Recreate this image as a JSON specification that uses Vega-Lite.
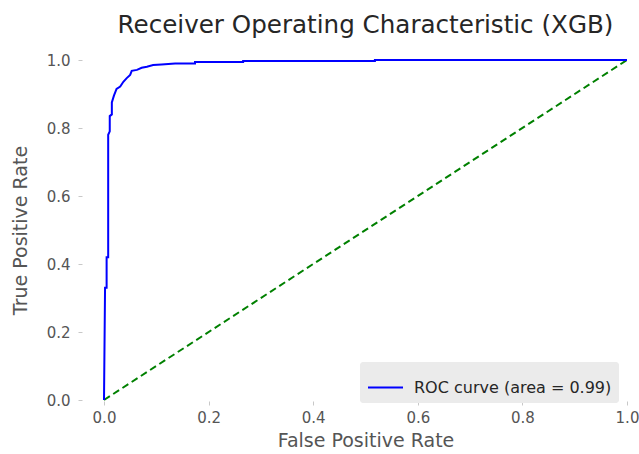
{
  "$schema": "https://vega.github.io/schema/vega-lite/v6.json",
  "width": 523,
  "height": 340,
  "autosize": {"type": "none"},
  "padding": {"left": 104, "top": 60, "right": 12, "bottom": 54},
  "background": "white",
  "title": {
    "text": "Receiver Operating Characteristic (XGB)",
    "font": "DejaVu Sans",
    "fontSize": 24.6,
    "fontWeight": "normal",
    "color": "#262626",
    "anchor": "middle",
    "offset": 14
  },
  "config": {
    "font": "DejaVu Sans",
    "view": {"stroke": null},
    "axis": {
      "domain": false,
      "grid": false,
      "tickColor": "#c8c8c8",
      "tickSize": 4,
      "labelFlush": false,
      "labelFont": "DejaVu Sans",
      "labelFontSize": 15,
      "labelColor": "#555555",
      "titleFont": "DejaVu Sans",
      "titleFontSize": 19,
      "titleFontWeight": "normal",
      "titleColor": "#555555"
    }
  },
  "layer": [
    {
      "data": {"values": [{"fpr": 0, "tpr": 0}, {"fpr": 1, "tpr": 1}]},
      "mark": {"type": "line", "color": "green", "strokeWidth": 2, "strokeDash": [7, 4]},
      "encoding": {
        "x": {"field": "fpr", "type": "quantitative", "scale": {"domain": [0, 1]}},
        "y": {"field": "tpr", "type": "quantitative", "scale": {"domain": [0, 1]}}
      }
    },
    {
      "data": {
        "values": [
          {"step": 0, "fpr": 0.0, "tpr": 0.0, "series": "ROC curve (area = 0.99)"},
          {"step": 1, "fpr": 0.002, "tpr": 0.33, "series": "ROC curve (area = 0.99)"},
          {"step": 2, "fpr": 0.005, "tpr": 0.33, "series": "ROC curve (area = 0.99)"},
          {"step": 3, "fpr": 0.005, "tpr": 0.42, "series": "ROC curve (area = 0.99)"},
          {"step": 4, "fpr": 0.008, "tpr": 0.42, "series": "ROC curve (area = 0.99)"},
          {"step": 5, "fpr": 0.008, "tpr": 0.78, "series": "ROC curve (area = 0.99)"},
          {"step": 6, "fpr": 0.011, "tpr": 0.79, "series": "ROC curve (area = 0.99)"},
          {"step": 7, "fpr": 0.011, "tpr": 0.835, "series": "ROC curve (area = 0.99)"},
          {"step": 8, "fpr": 0.015, "tpr": 0.84, "series": "ROC curve (area = 0.99)"},
          {"step": 9, "fpr": 0.015, "tpr": 0.875, "series": "ROC curve (area = 0.99)"},
          {"step": 10, "fpr": 0.019, "tpr": 0.895, "series": "ROC curve (area = 0.99)"},
          {"step": 11, "fpr": 0.024, "tpr": 0.915, "series": "ROC curve (area = 0.99)"},
          {"step": 12, "fpr": 0.031, "tpr": 0.922, "series": "ROC curve (area = 0.99)"},
          {"step": 13, "fpr": 0.037, "tpr": 0.936, "series": "ROC curve (area = 0.99)"},
          {"step": 14, "fpr": 0.043, "tpr": 0.946, "series": "ROC curve (area = 0.99)"},
          {"step": 15, "fpr": 0.05, "tpr": 0.956, "series": "ROC curve (area = 0.99)"},
          {"step": 16, "fpr": 0.053, "tpr": 0.968, "series": "ROC curve (area = 0.99)"},
          {"step": 17, "fpr": 0.063, "tpr": 0.971, "series": "ROC curve (area = 0.99)"},
          {"step": 18, "fpr": 0.072, "tpr": 0.977, "series": "ROC curve (area = 0.99)"},
          {"step": 19, "fpr": 0.082, "tpr": 0.98, "series": "ROC curve (area = 0.99)"},
          {"step": 20, "fpr": 0.094, "tpr": 0.985, "series": "ROC curve (area = 0.99)"},
          {"step": 21, "fpr": 0.11, "tpr": 0.987, "series": "ROC curve (area = 0.99)"},
          {"step": 22, "fpr": 0.136, "tpr": 0.99, "series": "ROC curve (area = 0.99)"},
          {"step": 23, "fpr": 0.174, "tpr": 0.99, "series": "ROC curve (area = 0.99)"},
          {"step": 24, "fpr": 0.174, "tpr": 0.994, "series": "ROC curve (area = 0.99)"},
          {"step": 25, "fpr": 0.266, "tpr": 0.994, "series": "ROC curve (area = 0.99)"},
          {"step": 26, "fpr": 0.266, "tpr": 0.997, "series": "ROC curve (area = 0.99)"},
          {"step": 27, "fpr": 0.518, "tpr": 0.997, "series": "ROC curve (area = 0.99)"},
          {"step": 28, "fpr": 0.518, "tpr": 1.0, "series": "ROC curve (area = 0.99)"},
          {"step": 29, "fpr": 1.0, "tpr": 1.0, "series": "ROC curve (area = 0.99)"}
        ]
      },
      "mark": {"type": "line", "strokeWidth": 2},
      "encoding": {
        "x": {
          "field": "fpr",
          "type": "quantitative",
          "scale": {"domain": [0, 1]},
          "title": "False Positive Rate",
          "axis": {"values": [0, 0.2, 0.4, 0.6, 0.8, 1.0], "format": ".1f", "offset": 1, "labelPadding": 5, "titlePadding": 6}
        },
        "y": {
          "field": "tpr",
          "type": "quantitative",
          "scale": {"domain": [0, 1]},
          "title": "True Positive Rate",
          "axis": {"values": [0, 0.2, 0.4, 0.6, 0.8, 1.0], "format": ".1f", "offset": 22, "labelPadding": 8, "titlePadding": 16}
        },
        "order": {"field": "step", "type": "quantitative"},
        "color": {
          "field": "series",
          "type": "nominal",
          "scale": {"domain": ["ROC curve (area = 0.99)"], "range": ["blue"]},
          "legend": {
            "title": null,
            "orient": "none",
            "legendX": 256,
            "legendY": 302,
            "fillColor": "#ebebeb",
            "cornerRadius": 3,
            "padding": 7,
            "symbolType": "stroke",
            "symbolSize": 1225,
            "symbolStrokeWidth": 2,
            "labelFont": "DejaVu Sans",
            "labelFontSize": 16,
            "labelLimit": 300,
            "labelColor": "#262626",
            "labelOffset": 10
          }
        }
      }
    }
  ]
}
